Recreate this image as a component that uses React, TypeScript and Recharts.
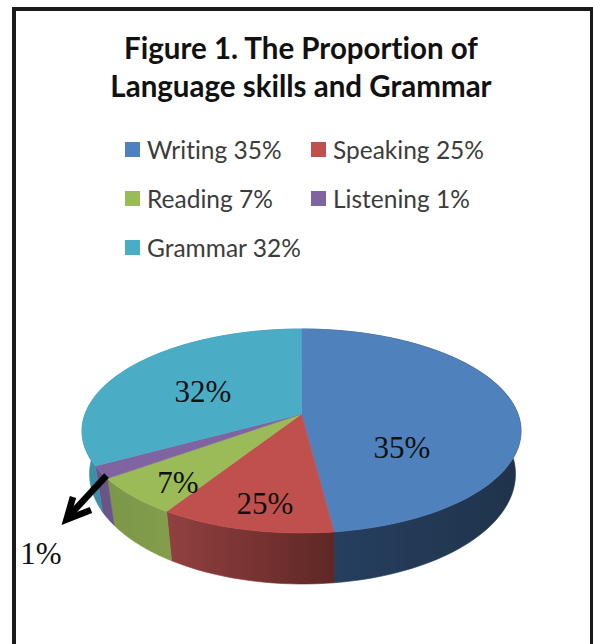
import { Legend, Pie, PieChart } from 'recharts';

const skills = ['Writing', 'Speaking', 'Reading', 'Listening', 'Grammar'];
// printed percentages, they don't match the drawn slices in the original
const printedPercents = [35, 25, 7, 1, 32];
// slice shares
const drawnShares = [48, 11, 6, 2, 33];

const topColors = ['#4f81bd', '#c0504d', '#9bbb59', '#8064a2', '#4bacc6'];
const wallFrom = ['#263f5f', '#924040', '#7c9648', '#6a5488', '#3d8fa6'];
const wallTo = ['#1f334b', '#5e2725', '#829d4c', '#6a5488', '#3d8fa6'];
const wallSpans = [
  [335, 520],
  [167, 335],
  [103, 167],
  [90, 110],
  [80, 110],
];

const sliceLabels = [
  { text: '35%', x: 402, y: 458 },
  { text: '25%', x: 265, y: 514 },
  { text: '7%', x: 178, y: 493 },
  { text: '32%', x: 203, y: 402 },
  { text: '1%', x: 41, y: 564 },
];

const tableData = skills.map((skill, i) => ({
  name: `${skill} ${printedPercents[i]}%`,
  share: drawnShares[i],
  fill: topColors[i],
  wall: `url(#wall${i})`,
}));

const TILT = 1 / 6;
const RIM_RATIO = 102 / 219.5;
const FLOOR_X = 213 / 219.5;
const FLOOR_Y = 110 / 219.5;
const FLOOR_DROP = 43;

// circle angle to the tilted disc, the near side gets stretched like the 3D pie
function project(angle: number): [number, number] {
  const rad = ((90 - angle) * Math.PI) / 180;
  const u = Math.sin(rad);
  const v = -Math.cos(rad);
  const d = 1 - TILT * v;
  return [(u * Math.sqrt(1 - TILT * TILT)) / d, (v - TILT) / d];
}

function arc(start: number, end: number) {
  const steps = Math.max(2, Math.ceil(Math.abs(end - start) / 2));
  const out: [number, number][] = [];
  for (let i = 0; i <= steps; i++) out.push(project(start + ((end - start) * i) / steps));
  return out;
}

function TopSlice(props: any) {
  const { cx, cy, outerRadius, startAngle, endAngle, fill } = props;
  const rim = arc(startAngle, endAngle).map(([x, y]) => `${cx + x * outerRadius},${cy + y * outerRadius * RIM_RATIO}`);
  const apex = `${cx},${cy - TILT * outerRadius * RIM_RATIO}`;
  return <path d={`M${apex}L${rim.join('L')}Z`} fill={fill} stroke={fill} strokeWidth={0.6} />;
}

function WallSlice(props: any) {
  const { cx, cy, outerRadius, startAngle, endAngle } = props;
  const wall = props.wall ?? props.payload?.wall;
  const points = arc(startAngle, endAngle);
  const upper = points.map(([x, y]) => `${cx + x * outerRadius},${cy + y * outerRadius * RIM_RATIO}`);
  const lower = points
    .map(([x, y]) => `${cx + 1 + x * outerRadius * FLOOR_X},${cy + FLOOR_DROP + y * outerRadius * FLOOR_Y}`)
    .reverse();
  return <path d={`M${upper.concat(lower).join('L')}Z`} fill={wall} stroke={wall} strokeWidth={0.6} />;
}

function LegendRows({ payload }: any) {
  // both pies report their slices, keep one set
  const rows = (payload ?? []).slice(0, skills.length);
  return (
    // zero height so the legend doesn't push the pie down
    <div style={{ height: 0, overflow: 'visible' }}>
      <div style={{ display: 'grid', gridTemplateColumns: '186px 186px', gridAutoRows: '49px', marginLeft: 125, paddingTop: 125 }}>
        {rows.map((entry: any) => (
          <div key={entry.value} style={{ display: 'flex', alignItems: 'center', fontSize: 24.5, color: '#3c3c3c', fontFamily: 'Lato', fontVariantLigatures: 'none' }}>
            <span style={{ width: 15, height: 15, background: entry.color, marginRight: 7, flex: 'none' }} />
            {entry.value}
          </div>
        ))}
      </div>
    </div>
  );
}

export default function App() {
  return (
    <div style={{ position: 'absolute', left: 0, top: 0, width: 593, height: 644, overflow: 'hidden', background: '#fff' }}>
      <div style={{ position: 'absolute', left: 12, top: 7, width: 574, height: 800, border: '4px solid #1a1a1a' }} />
      <PieChart width={593} height={644} margin={{ top: 0, right: 0, bottom: 0, left: 0 }} style={{ position: 'absolute', left: 0, top: 0 }}>
        <defs>
          {skills.map((skill, i) => (
            <linearGradient key={skill} id={`wall${i}`} gradientUnits="userSpaceOnUse" x1={wallSpans[i][0]} x2={wallSpans[i][1]} y1={0} y2={0}>
              <stop offset="0%" stopColor={wallFrom[i]} />
              <stop offset="100%" stopColor={wallTo[i]} />
            </linearGradient>
          ))}
        </defs>
        <text x={301} y={59} textAnchor="middle" fontFamily="Lato" fontWeight={700} fontSize={29.5} fill="#111" style={{ fontVariantLigatures: 'none' }}>
          Figure 1. The Proportion of
        </text>
        <text x={301} y={97} textAnchor="middle" fontFamily="Lato" fontWeight={700} fontSize={29.5} fill="#111" style={{ fontVariantLigatures: 'none' }}>
          Language skills and Grammar
        </text>
        <Legend content={LegendRows} itemSorter={null} layout="horizontal" verticalAlign="top" align="left" wrapperStyle={{ left: 0, top: 0, width: 593 }} />
        <Pie
          data={tableData}
          dataKey="share"
          nameKey="name"
          cx={301.5}
          cy={431}
          outerRadius={219.5}
          startAngle={90}
          endAngle={-270}
          legendType="none"
          shape={WallSlice}
          isAnimationActive={false}
        />
        <Pie
          data={tableData}
          dataKey="share"
          nameKey="name"
          cx={301.5}
          cy={431}
          outerRadius={219.5}
          startAngle={90}
          endAngle={-270}
          shape={TopSlice}
          isAnimationActive={false}
        />
      </PieChart>
      <svg width={593} height={644} style={{ position: 'absolute', left: 0, top: 0 }}>
        {sliceLabels.map((label) => (
          <text key={label.text} x={label.x} y={label.y} textAnchor="middle" fontFamily="Liberation Serif" fontSize={31} fill="#111">
            {label.text}
          </text>
        ))}
        <line x1={106.5} y1={475.5} x2={69} y2={516} stroke="#000" strokeWidth={6.5} />
        <polyline points="73,497 66.5,519.5 91,510" fill="none" stroke="#000" strokeWidth={6.5} />
      </svg>
    </div>
  );
}
